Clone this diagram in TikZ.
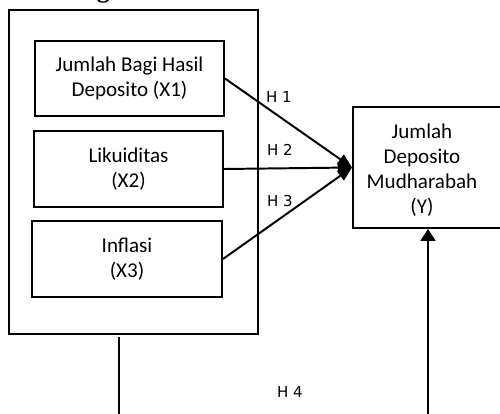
\documentclass[tikz,border=0pt]{standalone}
\usepackage{fontspec}
\setmainfont{Carlito}
\newfontfamily\hfont{DejaVu Sans}
\newfontfamily\tfont{Liberation Serif}
\usetikzlibrary{arrows.meta}
\begin{document}
\begin{tikzpicture}[x=0.56pt,y=-0.56pt,
  box/.style={draw,line width=1.1pt,rectangle,inner sep=0pt,align=center,
    font=\fontsize{11.8}{14}\selectfont},
  conn/.style={line width=1.1pt},
  arr/.style={line width=1.1pt,-{Triangle[length=8pt,width=6.5pt]}},
  hlab/.style={font=\hfont\fontsize{8.4}{10}\selectfont,inner sep=0pt}]
\useasboundingbox (0,0) rectangle (500,414);
\clip (0,0) rectangle (500,414);
\node[font=\tfont\bfseries\fontsize{14.5}{16}\selectfont,anchor=base west,inner sep=0pt] (title) at (26,-2.5) {Kerangka Pemikiran};
\node[box,minimum width=139.44pt,minimum height=181.44pt] (outer) at (133.5,172) {};
\node[box,minimum width=105.84pt,minimum height=42pt] (x1) at (129.5,78.5) {Jumlah Bagi Hasil\\Deposito (X1)};
\node[box,minimum width=105.84pt,minimum height=42.56pt] (x2) at (128.5,169) {Likuiditas\\(X2)};
\node[box,minimum width=106.4pt,minimum height=42.56pt] (x3) at (127,259) {Inflasi\\(X3)};
\node[box,minimum width=85.12pt,minimum height=67.76pt] (y) at (429,167.5) {};
\node[font=\fontsize{11.8}{14}\selectfont,align=center,inner sep=0pt] (ytext) at (422,170) {Jumlah\\Deposito\\Mudharabah\\(Y)};
\draw[arr] (x1.east) -- (y.west);
\draw[arr] (x2.east) -- (y.west);
\draw[arr] (x3.east) -- (y.west);
\node[hlab] (h1) at (279,97) {H 1};
\node[hlab] (h2) at (280,150) {H 2};
\node[hlab] (h3) at (280,201) {H 3};
\node[hlab] (h4) at (290,392) {H 4};
\coordinate (l1) at (119,337);
\coordinate (l2) at (119,420);
\draw[conn] (l1) -- (l2);
\coordinate (r1) at (428,420);
\draw[line width=1.1pt,-{Triangle[length=6.7pt,width=8.4pt]}] (r1) -- (r1 |- y.south);
\end{tikzpicture}
\end{document}
